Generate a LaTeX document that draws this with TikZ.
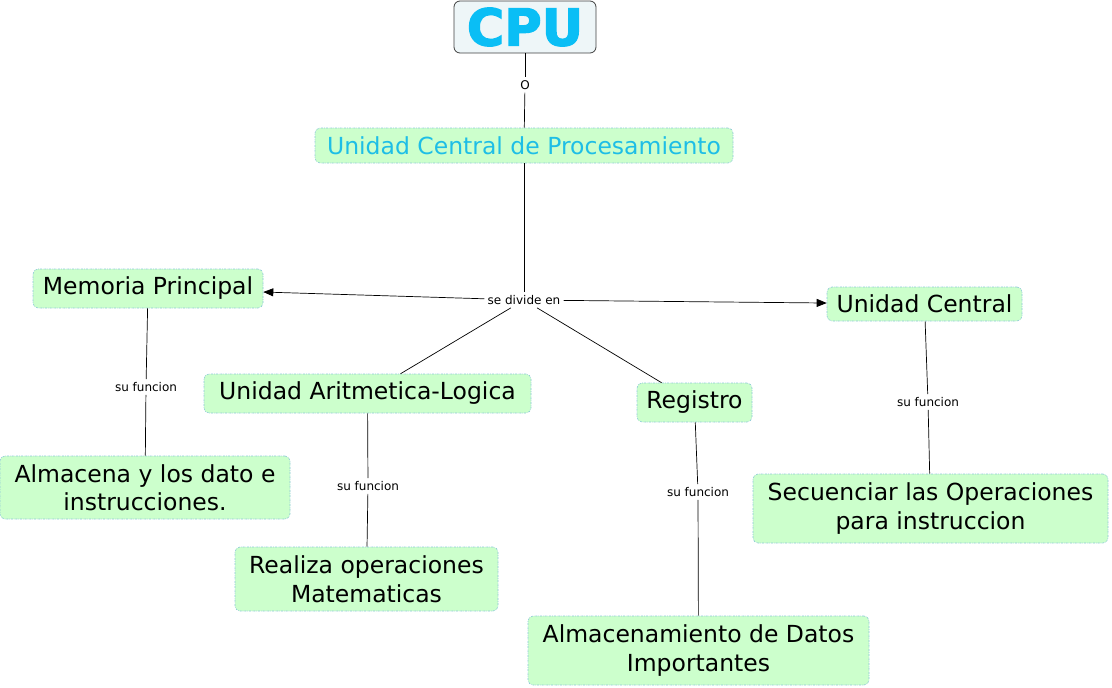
\documentclass[tikz,border=0pt]{standalone}
\usepackage{fontspec}
\setmainfont{DejaVu Sans}
\newfontface\cpufont[FakeBold=2.5]{DejaVu Sans Bold}
\usetikzlibrary{arrows.meta}
\definecolor{boxfill}{RGB}{204,255,204}
\definecolor{boxline}{RGB}{140,200,215}
\definecolor{cpucyan}{RGB}{10,190,245}
\definecolor{titlecyan}{RGB}{30,190,230}
\definecolor{cpufill}{RGB}{238,246,248}
\tikzset{
  x=1pt, y=-1pt,
  concept/.style={draw=boxline, fill=boxfill, rounded corners=5pt, line width=0.6pt,
    dash pattern=on 2pt off 1pt on 0.6pt off 1pt, align=center, inner sep=2pt,
    font=\fontsize{23.5}{28.5}\selectfont, text=black},
  lbl/.style={fill=white, inner sep=3pt, font=\fontsize{12}{14}\selectfont},
  link/.style={draw=black, line width=0.7pt},
  arr/.style={link, -{Triangle[length=10pt,width=8pt]}},
}
\begin{document}
\begin{tikzpicture}
\useasboundingbox (0,0) rectangle (1112,688);
\node[draw=black!75, fill=cpufill, rounded corners=6pt, line width=0.8pt,
  minimum width=142pt, minimum height=52pt, inner sep=0pt,
  font=\fontsize{51}{51}\cpufont, text=cpucyan] (cpu) at (525,27) {CPU};
\node[concept, minimum width=418pt, minimum height=35pt, text=titlecyan] (ucp) at (524,145.5) {Unidad Central de Procesamiento};
\node[concept, minimum width=230pt, minimum height=39pt] (mem) at (148,288.5) {Memoria Principal};
\node[concept, minimum width=195pt, minimum height=34pt] (uc) at (924.5,304) {Unidad Central};
\node[concept, minimum width=327pt, minimum height=39pt] (ual) at (367.5,393.5) {Unidad Aritmetica-Logica};
\node[concept, minimum width=115pt, minimum height=39pt] (reg) at (694.5,402.5) {Registro};
\node[concept, minimum width=290pt, minimum height=63pt] (alm) at (145,487.5) {Almacena y los dato e\\instrucciones.};
\node[concept, minimum width=263pt, minimum height=64pt] (rea) at (366.5,579) {Realiza operaciones\\Matematicas};
\node[concept, minimum width=341pt, minimum height=69pt] (almd) at (698.5,650.5) {Almacenamiento de Datos\\Importantes};
\node[concept, minimum width=355pt, minimum height=69pt] (sec) at (930.5,508.5) {Secuenciar las Operaciones\\para instruccion};

\node[lbl] (o) at (525,85) {O};
\node[lbl] (sde) at (524,300) {se divide en};
\node[lbl] (sf1) at (146,387) {su funcion};
\node[lbl] (sf2) at (368,486) {su funcion};
\node[lbl] (sf3) at (698,492) {su funcion};
\node[lbl] (sf4) at (928,402) {su funcion};

\draw[link] (cpu) -- (o);
\draw[link] (o) -- (ucp);
\draw[link] (ucp) -- (sde);
\draw[arr] (sde) -- (mem);
\draw[arr] (sde) -- (uc);
\draw[link] (sde) -- (ual);
\draw[link] (sde) -- (reg);
\draw[link] (mem) -- (sf1);
\draw[link] (sf1) -- (alm);
\draw[link] (ual) -- (sf2);
\draw[link] (sf2) -- (rea);
\draw[link] (reg) -- (sf3);
\draw[link] (sf3) -- (almd);
\draw[link] (uc) -- (sf4);
\draw[link] (sf4) -- (sec);
\end{tikzpicture}
\end{document}
